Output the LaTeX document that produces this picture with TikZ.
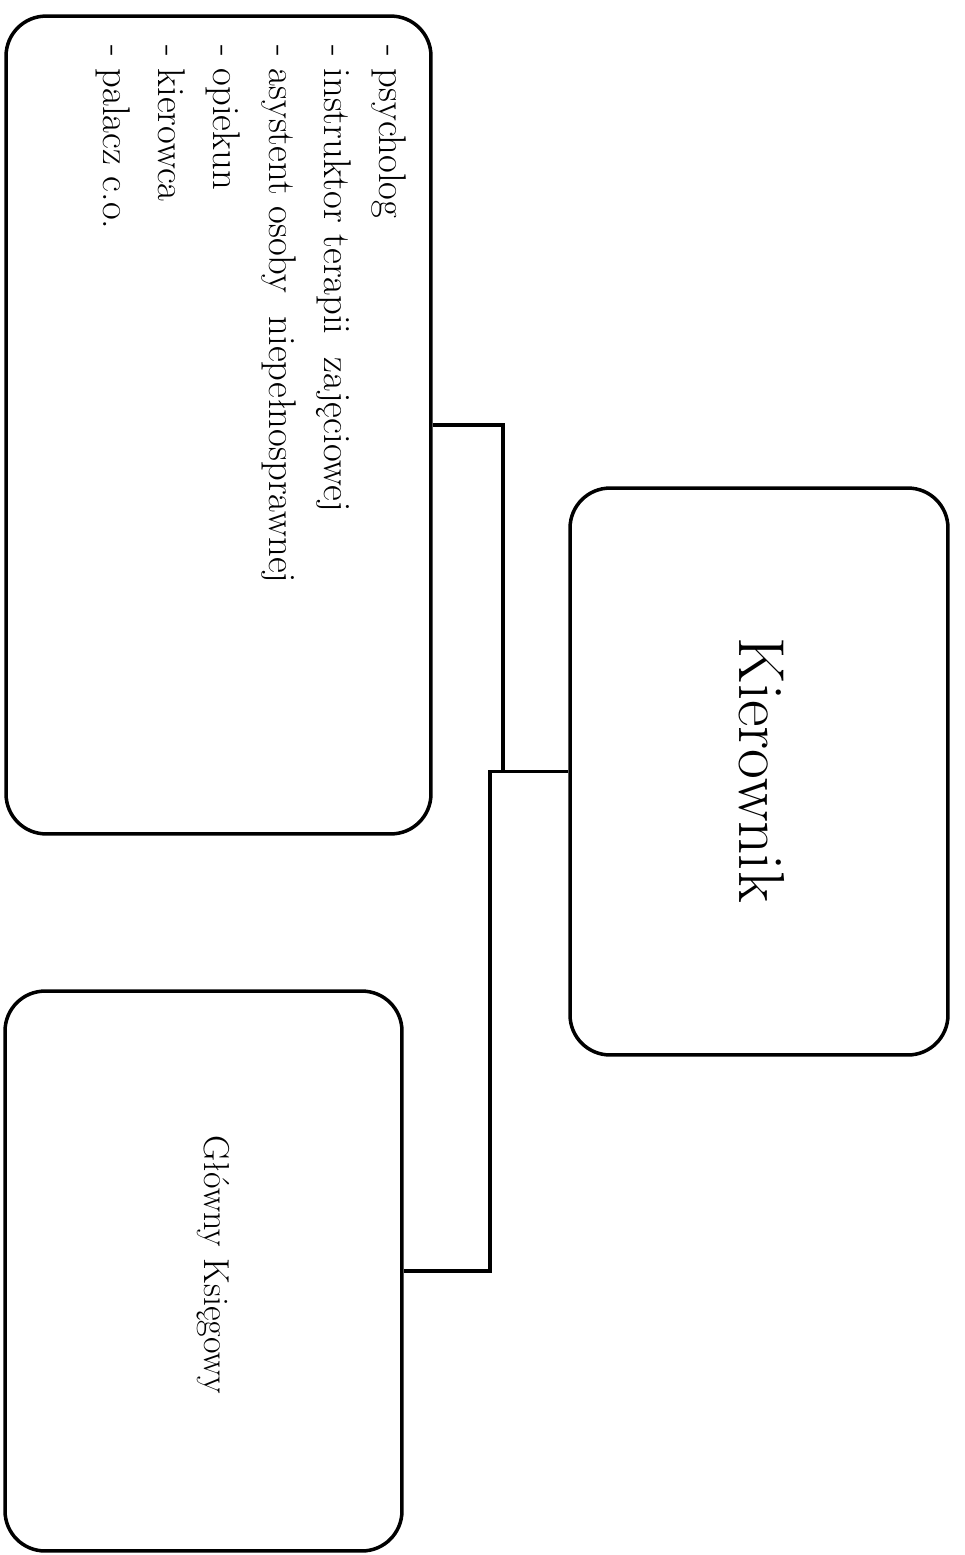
\documentclass[tikz,border=0pt]{standalone}
\usepackage{fontspec}
\begin{document}
\begin{tikzpicture}[x=0.02cm, y=-0.02cm,
    box/.style={rectangle, rounded corners=0.8cm, draw=black, line width=2pt},
    vtext/.style={rotate=-90, inner sep=0pt}]
    \useasboundingbox (0, 0) rectangle (964, 1555);

    \node[box, minimum width=8.5cm, minimum height=16.36cm] (A1) at (218.5, 425) {};
    \node[box, minimum width=7.56cm, minimum height=11.34cm] (K1) at (759, 771.5) {};
    \node[box, minimum width=7.94cm, minimum height=11.2cm] (G1) at (203.5, 1271) {};

    \node[vtext, anchor=north west, align=left, font=\fontsize{22}{31.5}\selectfont] (A2) at (407, 45)
        {- psycholog\\- instruktor terapii~ zajęciowej\\- asystent osoby~ niepełnosprawnej\\- opiekun\\- kierowca\\- palacz c.o.};
    \node[vtext, font=\fontsize{37}{44}\selectfont] (K2) at (762, 770) {Kierownik};
    \node[vtext, font=\fontsize{20.5}{25}\selectfont] (G2) at (213, 1265) {Główny Księgowy};

    \coordinate (J1) at (503, 600);
    \coordinate (J2) at (490, 1000);
    \draw[line width=2pt] (A1.east) -| (J1) |- (K1.west);
    \draw[line width=2pt] (K1.west) -| (J2) |- (G1.east);
\end{tikzpicture}
\end{document}
